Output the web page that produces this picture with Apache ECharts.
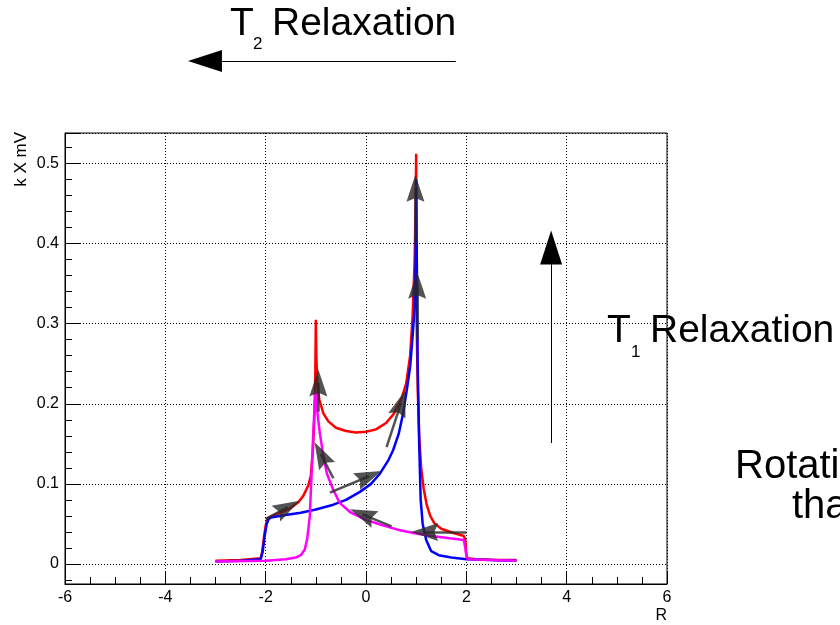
<!DOCTYPE html>
<html><head><meta charset="utf-8">
<script src="https://cdn.jsdelivr.net/npm/echarts@6/dist/echarts.min.js"></script>
<style>html,body{margin:0;padding:0;background:#fff}#c{width:840px;height:625px}</style>
</head><body><div id="c"></div>
<script>
// ---- data ----
const redX = [-3.0,-2.5,-2.1,-2.07,-2.03,-2.0,-1.96,-1.9,-1.7,-1.5,-1.35,-1.25,-1.15,-1.1,-1.06,-1.03,-1.01,-1.0,-0.99,-0.97,-0.93,-0.85,-0.75,-0.6,-0.4,-0.2,0.0,0.2,0.4,0.55,0.7,0.8,0.88,0.93,0.97,0.99,1.0,1.005,1.01,1.03,1.06,1.1,1.15,1.21,1.28,1.36,1.5,1.73,1.95,1.98,2.0,2.02,2.2,2.6,3.0];
const redY = [0.004,0.005,0.007,0.015,0.035,0.048,0.057,0.059,0.064,0.070,0.077,0.085,0.098,0.110,0.140,0.180,0.240,0.305,0.260,0.225,0.205,0.188,0.178,0.170,0.166,0.164,0.165,0.168,0.176,0.187,0.205,0.225,0.260,0.310,0.380,0.450,0.512,0.420,0.300,0.220,0.160,0.120,0.094,0.074,0.060,0.051,0.044,0.039,0.035,0.030,0.012,0.007,0.006,0.005,0.005];

const blueX = [-3.0,-2.5,-2.1,-2.06,-2.02,-1.98,-1.94,-1.9,-1.6,-1.3,-1.0,-0.65,-0.4,-0.12,0.1,0.28,0.45,0.54,0.65,0.74,0.82,0.88,0.93,0.97,0.985,0.995,1.0,1.01,1.03,1.06,1.09,1.13,1.2,1.3,1.45,1.7,2.0,2.5,3.0];
const blueY = [0.003,0.004,0.006,0.015,0.035,0.050,0.056,0.058,0.061,0.064,0.068,0.074,0.080,0.090,0.100,0.113,0.130,0.142,0.162,0.188,0.220,0.246,0.285,0.320,0.360,0.420,0.480,0.400,0.250,0.150,0.080,0.050,0.030,0.016,0.011,0.008,0.006,0.005,0.004];

const magX = [-3.0,-2.0,-1.6,-1.4,-1.3,-1.22,-1.17,-1.12,-1.08,-1.05,-1.02,-1.0,-0.97,-0.92,-0.85,-0.78,-0.65,-0.52,-0.3,0.0,0.3,0.68,1.0,1.3,1.67,1.95,1.98,2.0,2.03,2.5,3.0];
const magY = [0.003,0.004,0.006,0.008,0.011,0.018,0.032,0.060,0.120,0.165,0.204,0.215,0.190,0.163,0.135,0.113,0.092,0.076,0.064,0.055,0.049,0.042,0.038,0.035,0.032,0.030,0.020,0.010,0.006,0.005,0.004];

// gray flow arrows: tail -> head centre
const grayFrom = [[-2.0,0.056],[-0.95,0.190],[-0.65,0.107],[-0.72,0.089],[0.41,0.146],[0.51,0.047],[2.0,0.040],[0.99,0.400],[1.02,0.280]];
const grayTo   = [[-1.56,0.071],[-0.95,0.226],[-0.90,0.137],[0.06,0.1095],[0.70,0.201],[-0.07,0.062],[1.17,0.040],[0.985,0.469],[1.02,0.348]];

// black relaxation arrows (T1 vertical, T2 horizontal)
const blackFrom = [[3.69,0.151],[1.79,0.628]];
const blackTo   = [[3.69,0.395],[-3.21,0.628]];

const xMin = -6, xMax = 6, xStep = 2;
const yMin = -0.025, yMax = 0.538;

const pairs = (xs, ys) => xs.map((x, i) => [x, ys[i]]);
const FONT = '"Liberation Sans", Arial, Helvetica, sans-serif';
const HEAD = 'path://M50,0L100,100L50,86L0,100Z';

const chart = echarts.init(document.getElementById('c'), null, {renderer: 'canvas'});
const option = {
  animation: false,
  backgroundColor: '#fff',
  grid: {left: 65, right: 173, top: 133, bottom: 41, show: true, borderColor: '#000', borderWidth: 1,
         backgroundColor: 'transparent', containLabel: false, outerBoundsMode: 'none'},
  xAxis: {
    type: 'value', min: xMin, max: xMax, interval: xStep,
    axisLine: {onZero: false, lineStyle: {color: '#000', width: 1}},
    axisTick: {inside: true, length: 13, lineStyle: {color: '#000'}},
    minorTick: {show: true, splitNumber: 4, length: 7, lineStyle: {color: '#000'}},
    axisLabel: {color: '#000', fontSize: 16, fontFamily: FONT, margin: 6, showMinLabel: true, showMaxLabel: true},
    splitLine: {show: true, lineStyle: {color: '#000', width: 1, type: [1, 2]}},
    minorSplitLine: {show: false}
  },
  yAxis: {
    type: 'value', min: yMin, max: yMax, splitNumber: 5,
    axisLine: {onZero: false, lineStyle: {color: '#000', width: 1}},
    axisTick: {inside: true, length: 16, lineStyle: {color: '#000'}},
    minorTick: {show: true, splitNumber: 5, length: 7, lineStyle: {color: '#000'}},
    axisLabel: {color: '#000', fontSize: 16, fontFamily: FONT, margin: 6, showMinLabel: false, showMaxLabel: false},
    splitLine: {show: true, lineStyle: {color: '#000', width: 1, type: [1, 2]}},
    minorSplitLine: {show: false}
  },
  series: [
    {type: 'line', data: pairs(redX, redY), symbol: 'none', showSymbol: false, z: 2,
     lineStyle: {color: '#ff0000', width: 2.5}, itemStyle: {color: '#ff0000'}},
    {type: 'line', data: pairs(blueX, blueY), symbol: 'none', showSymbol: false, z: 3,
     lineStyle: {color: '#0000ff', width: 2.5}, itemStyle: {color: '#0000ff'}},
    {type: 'line', data: pairs(magX, magY), symbol: 'none', showSymbol: false, z: 4,
     lineStyle: {color: '#ff00ff', width: 2.5}, itemStyle: {color: '#ff00ff'}},
    {type: 'lines', coordinateSystem: 'cartesian2d', clip: false, z: 6,
     data: grayFrom.map((f, i) => ({coords: [f, grayTo[i]]})),
     symbol: ['none', HEAD], symbolSize: [0, [18, 27]],
     lineStyle: {color: 'rgba(40,40,40,0.8)', width: 2.5, opacity: 1, curveness: 0}},
    {type: 'lines', coordinateSystem: 'cartesian2d', clip: false, z: 7,
     data: blackFrom.map((f, i) => ({coords: [f, blackTo[i]]})),
     symbol: ['none', 'triangle'], symbolSize: [0, [22, 34]],
     lineStyle: {color: '#000', width: 1, opacity: 1, curveness: 0}}
  ],
  graphic: [
    {type: 'text', x: 230, y: 24, style: {text: 'T', fontSize: 39, fontFamily: FONT, fill: '#000', verticalAlign: 'middle'}},
    {type: 'text', x: 253, y: 44, style: {text: '2', fontSize: 17, fontFamily: FONT, fill: '#000', verticalAlign: 'middle'}},
    {type: 'text', x: 272, y: 24, style: {text: 'Relaxation', fontSize: 39, fontFamily: FONT, fill: '#000', verticalAlign: 'middle'}},
    {type: 'text', x: 607, y: 331, style: {text: 'T', fontSize: 39, fontFamily: FONT, fill: '#000', verticalAlign: 'middle'}},
    {type: 'text', x: 631, y: 352, style: {text: '1', fontSize: 17, fontFamily: FONT, fill: '#000', verticalAlign: 'middle'}},
    {type: 'text', x: 650, y: 331, style: {text: 'Relaxation', fontSize: 39, fontFamily: FONT, fill: '#000', verticalAlign: 'middle'}},
    {type: 'text', x: 735, y: 467, style: {text: 'Rotation', fontSize: 40, fontFamily: FONT, fill: '#000', verticalAlign: 'middle'}},
    {type: 'text', x: 792, y: 507, style: {text: 'than', fontSize: 40, fontFamily: FONT, fill: '#000', verticalAlign: 'middle'}},
    {type: 'text', x: 21, y: 132, rotation: Math.PI / 2, style: {text: 'k X mV', fontSize: 17, fontFamily: FONT, fill: '#000', align: 'right', verticalAlign: 'middle'}},
    {type: 'text', x: 667, y: 616, style: {text: 'R', fontSize: 16, fontFamily: FONT, fill: '#000', align: 'right', verticalAlign: 'middle'}}
  ]
};
chart.setOption(option);
</script>
</body></html>
